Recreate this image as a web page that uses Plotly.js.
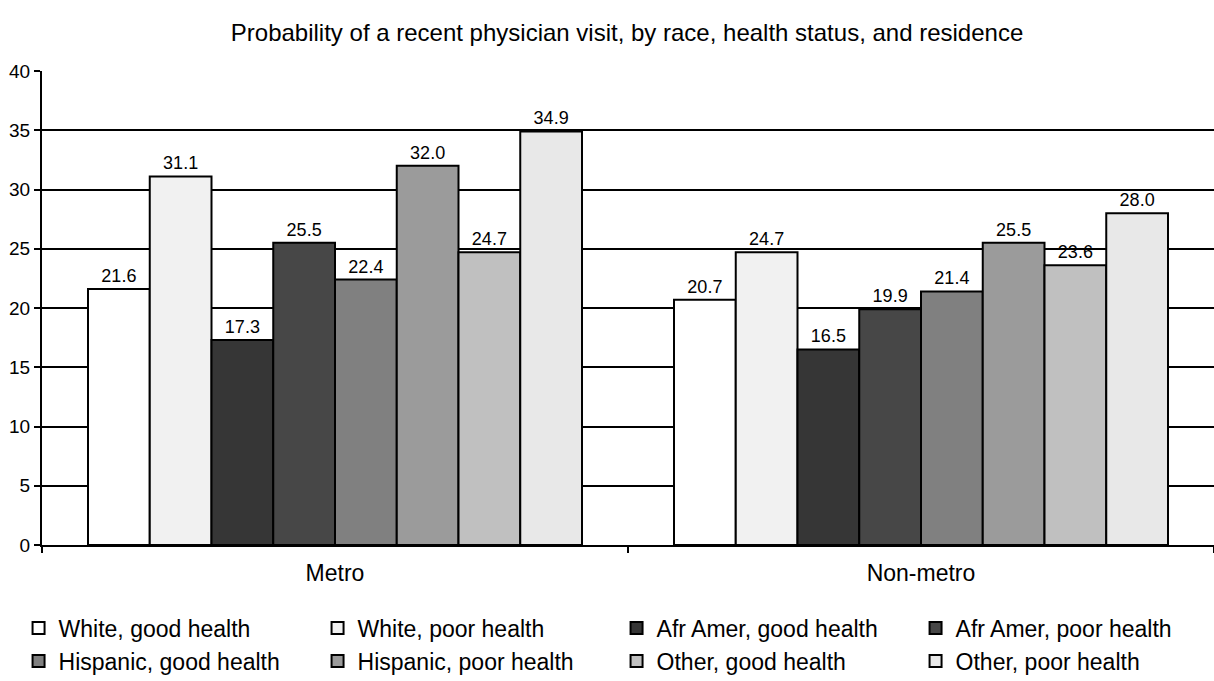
<!DOCTYPE html>
<html>
<head>
<meta charset="utf-8">
<script src="https://cdn.plot.ly/plotly-3.0.1.min.js"></script>
<style>html,body{margin:0;padding:0;background:#fff;}#chart{width:1214px;height:681px;}</style>
</head>
<body>
<div id="chart"></div>
<script>
const categories = ["Metro", "Non-metro"];
const seriesNames = ["White, good health", "White, poor health", "Afr Amer, good health", "Afr Amer, poor health",
  "Hispanic, good health", "Hispanic, poor health", "Other, good health", "Other, poor health"];
const whiteGood = [21.6, 20.7];
const whitePoor = [31.1, 24.7];
const afrGood = [17.3, 16.5];
const afrPoor = [25.5, 19.9];
const hispGood = [22.4, 21.4];
const hispPoor = [32.0, 25.5];
const otherGood = [24.7, 23.6];
const otherPoor = [34.9, 28.0];
const seriesValues = [whiteGood, whitePoor, afrGood, afrPoor, hispGood, hispPoor, otherGood, otherPoor];
const colors = ["#ffffff", "#f1f1f1", "#363636", "#474747", "#808080", "#9b9b9b", "#c0c0c0", "#e8e8e8"];

const FONT = "Liberation Sans, Arial, sans-serif";

const traces = seriesValues.map((vals, i) => ({
  type: "bar",
  name: seriesNames[i],
  x: categories,
  y: vals,
  text: vals.map(v => v.toFixed(1)),
  textposition: "outside",
  cliponaxis: false,
  textfont: {family: FONT, size: 18, color: "#000"},
  marker: {color: colors[i], line: {color: "#000", width: 2}}
}));

const layout = {
  width: 1214, height: 681,
  margin: {l: 42, r: 0, t: 71, b: 136, autoexpand: false},
  paper_bgcolor: "#fff", plot_bgcolor: "#fff",
  font: {family: FONT, color: "#000", size: 18},
  title: {text: "Probability of a recent physician visit, by race, health status, and residence",
    x: 0.5165, xanchor: "center", y: 0.9515, yanchor: "middle",
    font: {size: 24, family: FONT, color: "#000"}},
  barmode: "group",
  bargap: 0.157,
  bargroupgap: 0,
  uniformtext: {mode: false},
  xaxis: {
    showline: true, linecolor: "#000", linewidth: 2,
    ticks: "outside", tickson: "boundaries", ticklen: 6, tickcolor: "#000", tickwidth: 2,
    tickfont: {size: 23}, showgrid: false, zeroline: false, automargin: false,
    ticklabelstandoff: 6
  },
  yaxis: {
    range: [0, 40], dtick: 5, tick0: 0,
    showline: true, linecolor: "#000", linewidth: 2,
    ticks: "outside", ticklen: 6, tickcolor: "#000", tickwidth: 2,
    showgrid: true, gridcolor: "#000", gridwidth: 2,
    zeroline: false, tickfont: {size: 19}, automargin: false
  },
  legend: {
    orientation: "h", x: -0.02, xanchor: "left", y: -0.13, yanchor: "top",
    entrywidth: 254, entrywidthmode: "pixels",
    font: {size: 23, family: FONT}, traceorder: "normal", itemwidth: 30
  },
  showlegend: true
};

Plotly.newPlot("chart", traces, layout, {displayModeBar: false, staticPlot: true});
</script>
</body>
</html>
